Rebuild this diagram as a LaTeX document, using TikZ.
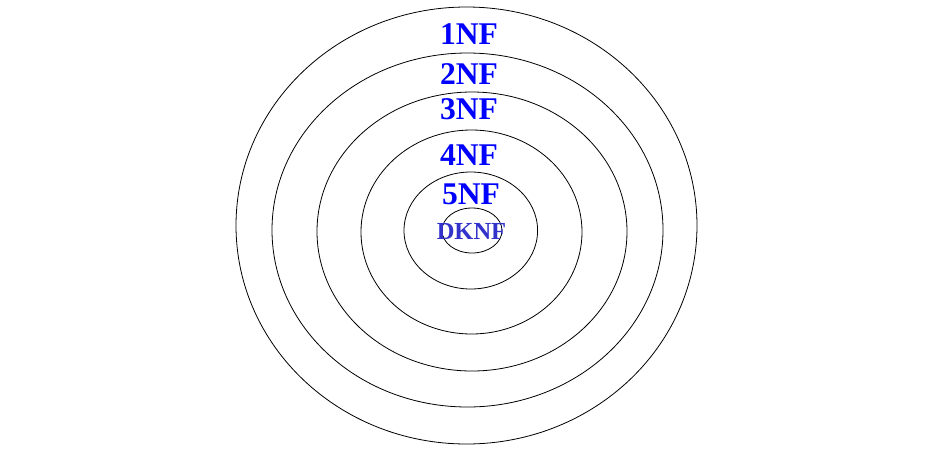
\documentclass[tikz,border=0pt]{standalone}
\usepackage{fontspec}
\setmainfont{Liberation Serif}
\definecolor{nfblue}{RGB}{0,0,255}
\definecolor{dkblue}{RGB}{51,51,204}
\tikzset{
  ring/.style={draw=black, line width=0.8pt},
  nflabel/.style={text=nfblue, font=\fontsize{31.6}{32}\selectfont\bfseries, inner sep=0pt, anchor=center},
  dklabel/.style={text=dkblue, font=\fontsize{24.5}{25}\selectfont\bfseries, inner sep=0pt, anchor=center}
}
\begin{document}
\begin{tikzpicture}[x=1pt,y=-1pt]
\useasboundingbox (0,0) rectangle (951,451);
\fill[white] (0,0) rectangle (951,451);
\draw[ring] (466.5,225.5) ellipse [x radius=230.5, y radius=218.5];
\draw[ring] (467.5,230) ellipse [x radius=195.5, y radius=177];
\draw[ring] (472,231.5) ellipse [x radius=155, y radius=139.5];
\draw[ring] (471.5,232) ellipse [x radius=110.5, y radius=102];
\draw[ring] (470.8,230.5) ellipse [x radius=66.8, y radius=58.5];
\draw[ring] (472,230.5) ellipse [x radius=30, y radius=22.5];
\node[nflabel] (n1) at (469,34) {1NF};
\node[nflabel] (n2) at (469,74) {2NF};
\node[nflabel] (n3) at (469,109) {3NF};
\node[nflabel] (n4) at (469,155.5) {4NF};
\node[nflabel] (n5) at (471,194) {5NF};
\node[dklabel] (dk) at (471.5,231.5) {DKNF};
\end{tikzpicture}
\end{document}
